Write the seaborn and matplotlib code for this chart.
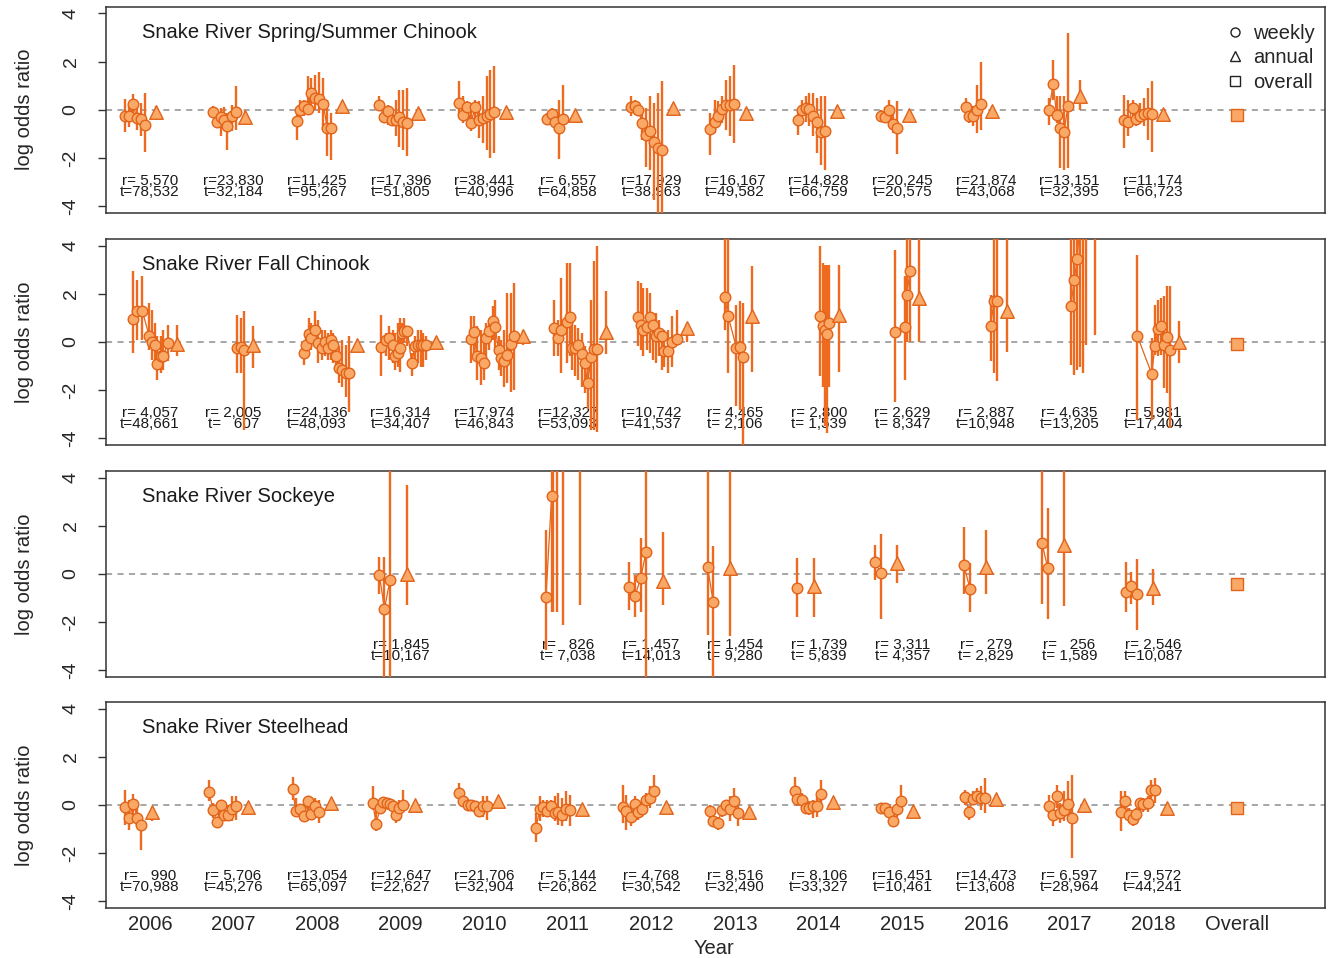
import numpy as np
import pandas as pd
import matplotlib
matplotlib.use("Agg")
import matplotlib.pyplot as plt
import seaborn as sns
from matplotlib.lines import Line2D

# ---------------------------------------------------------------- categories
years = list(range(2006, 2019))
x_labels = [str(y) for y in years] + ["Overall"]
panel_titles = ["Snake River Spring/Summer Chinook", "Snake River Fall Chinook",
                "Snake River Sockeye", "Snake River Steelhead"]

# ---------------------------------------------------------------- Spring/Summer Chinook
# weekly position within a year (offset from the year tick), estimate and 95% interval
ssc_wk_x = [
    [-0.30, -0.25, -0.20, -0.16, -0.11, -0.06],
    [-0.243, -0.203, -0.155, -0.116, -0.076, -0.024, 0.024],
    [-0.247, -0.207, -0.16, -0.108, -0.076, -0.028, 0.024, 0.072, 0.12, 0.163],
    [-0.255, -0.203, -0.155, -0.108, -0.06, -0.02, 0.028, 0.072],
    [-0.30, -0.25, -0.203, -0.16, -0.112, -0.06, -0.02, 0.028, 0.068, 0.12],
    [-0.247, -0.195, -0.155, -0.104, -0.064],
    [-0.251, -0.203, -0.16, -0.112, -0.068, -0.02, 0.032, 0.08, 0.128],
    [-0.295, -0.247, -0.20, -0.16, -0.112, -0.064, -0.016],
    [-0.243, -0.203, -0.155, -0.112, -0.064, -0.016, 0.028, 0.076],
    [-0.259, -0.207, -0.155, -0.108, -0.06],
    [-0.243, -0.203, -0.16, -0.112, -0.064],
    [-0.247, -0.195, -0.155, -0.116, -0.068, -0.02],
    [-0.347, -0.295, -0.247, -0.20, -0.155, -0.108, -0.06, -0.016],
]
ssc_wk_est = [
    [-0.24, -0.25, 0.24, -0.35, -0.37, -0.62],
    [-0.11, -0.51, -0.31, -0.44, -0.69, -0.28, -0.10],
    [-0.46, -0.03, 0.17, 0.03, 0.69, 0.49, 0.46, 0.24, -0.74, -0.74],
    [0.21, -0.32, -0.07, -0.42, -0.42, -0.32, -0.51, -0.56],
    [0.28, -0.21, 0.10, -0.56, 0.10, -0.42, -0.35, -0.28, -0.18, -0.08],
    [-0.39, -0.18, -0.53, -0.74, -0.39],
    [0.11, 0.14, 0.00, -0.56, -1.04, -0.87, -1.36, -1.60, -1.67],
    [-0.79, -0.51, -0.25, 0.03, 0.21, 0.21, 0.24],
    [-0.42, 0.00, 0.06, 0.03, -0.24, -0.53, -0.94, -0.87],
    [-0.25, -0.31, -0.03, -0.60, -0.74],
    [0.11, -0.25, -0.28, 0.00, 0.24],
    [0.00, 1.08, -0.21, -0.74, -0.93, 0.14],
    [-0.44, -0.49, 0.07, -0.37, -0.24, -0.18, -0.14, -0.17],
]
ssc_wk_lo = [
    [-0.94, -0.70, -0.20, -0.83, -1.10, -1.74],
    [-0.35, -0.70, -1.10, -0.69, -1.69, -0.90, -0.83],
    [-1.25, -0.42, -0.28, -0.14, 0.07, 0.00, -0.14, -0.83, -1.94, -2.08],
    [-0.07, -0.56, -0.63, -0.63, -1.11, -1.53, -1.67, -1.94],
    [-0.21, -0.56, -0.42, -0.90, -0.69, -1.18, -1.39, -1.67, -2.00, -1.80],
    [-0.63, -0.42, -0.90, -2.06, -0.56],
    [-0.28, -0.21, -0.21, -1.25, -2.36, -2.50, -3.75, -6.0, -6.0],
    [-1.87, -0.97, -0.56, -0.56, -0.83, -1.11, -1.39],
    [-1.04, -0.42, -0.49, -0.69, -1.11, -1.80, -2.30, -2.50],
    [-0.42, -0.49, -0.56, -0.97, -1.83],
    [-0.14, -0.56, -0.69, -0.97, -0.83],
    [-0.63, 0.42, -0.56, -2.43, -2.50, -2.43],
    [-1.60, -1.11, -0.35, -0.69, -0.56, -0.69, -1.25, -1.74],
]
ssc_wk_hi = [
    [0.44, 0.20, 0.65, 0.14, 0.28, 0.69],
    [0.14, 0.00, 0.07, 0.11, -0.14, 0.21, 0.97],
    [0.00, 0.42, 0.42, 1.39, 1.32, 1.46, 1.56, 1.32, 0.42, -0.14],
    [0.56, 0.00, 0.21, 0.00, 0.42, 0.83, 0.83, 0.90],
    [1.18, 0.56, 0.35, 0.00, 0.42, 0.35, 0.56, 1.39, 1.67, 1.80],
    [-0.14, 0.07, 0.00, 0.42, 1.04],
    [0.56, 0.42, 0.14, 0.07, 0.07, 0.56, 0.28, 0.69, 1.18],
    [-0.14, 0.42, 0.35, 0.56, 1.25, 1.39, 1.87],
    [-0.07, 0.42, 0.56, 0.69, 0.69, 0.49, 0.56, 0.56],
    [0.00, 0.11, 0.42, 0.00, 0.35],
    [0.49, 0.28, 0.14, 1.04, 2.00],
    [0.49, 2.08, 0.56, 0.56, 0.56, 3.19],
    [0.62, 0.42, 0.42, 0.14, 0.28, 0.49, 0.90, 1.18],
]
ssc_ann_x = [0.07, 0.14, 0.30, 0.21, 0.26, 0.084, 0.26, 0.124, 0.215, 0.08, 0.075, 0.124, 0.12]
ssc_ann_est = [-0.11, -0.31, 0.14, -0.14, -0.08, -0.21, 0.06, -0.14, -0.07, -0.21, -0.04, 0.56, -0.18]
ssc_ann_lo = [-0.42, -0.49, 0.00, -0.35, -0.20, -0.56, -0.14, -0.35, -0.28, -0.42, -0.35, 0.00, -0.42]
ssc_ann_hi = [0.14, -0.07, 0.28, 0.00, 0.05, 0.00, 0.21, 0.07, 0.14, 0.00, 0.14, 1.25, 0.00]
ssc_overall = [-0.21, -0.25, -0.17]
ssc_r = [5570, 23830, 11425, 17396, 38441, 6557, 17929, 16167, 14828, 20245, 21874, 13151, 11174]
ssc_t = [78532, 32184, 95267, 51805, 40996, 64858, 38963, 49582, 66759, 20575, 43068, 32395, 66723]

# ---------------------------------------------------------------- Fall Chinook
fc_wk_x = [
    [-0.20, -0.16, -0.09, -0.01, 0.02, 0.06, 0.09, 0.13, 0.16, 0.21],
    [0.036, 0.084, 0.124],
    [-0.16, -0.128, -0.10, -0.068, -0.028, 0.012, 0.052, 0.092, 0.132, 0.16, 0.19, 0.23, 0.26, 0.30, 0.34, 0.38],
    [-0.235, -0.175, -0.144, -0.096, -0.068, -0.036, -0.008, 0.012, 0.044, 0.08, 0.13, 0.17, 0.21, 0.24, 0.27, 0.30],
    [-0.16, -0.124, -0.092, -0.044, -0.004, 0.02, 0.06, 0.10, 0.13, 0.17, 0.20, 0.235, 0.275, 0.315, 0.35],
    [-0.167, -0.116, -0.088, -0.016, 0.024, 0.044, 0.084, 0.124, 0.163, 0.20, 0.235, 0.275, 0.315, 0.343],
    [-0.167, -0.13, -0.10, -0.05, -0.02, 0.02, 0.05, 0.09, 0.13, 0.15, 0.20, 0.25, 0.30],
    [-0.124, -0.084, 0.016, 0.056, 0.088],
    [0.016, 0.048, 0.076, 0.096, 0.128],
    [-0.084, 0.028, 0.052, 0.092],
    [0.056, 0.096, 0.136],
    [0.016, 0.056, 0.092, 0.124, 0.163, 0.20],
    [-0.19, -0.016, 0.02, 0.06, 0.092, 0.128, 0.16, 0.20],
]
fc_wk_est = [
    [0.94, 1.26, 1.26, 0.25, -0.03, -0.15, -0.92, -0.61, -0.61, -0.06],
    [-0.24, -0.22, -0.33],
    [-0.47, -0.12, 0.33, 0.15, 0.50, -0.06, -0.26, 0.01, -0.26, 0.08, -0.12, -0.58, -1.07, -1.19, -1.31, -1.31],
    [-0.22, 0.08, 0.15, -0.12, -0.58, -0.47, -0.26, 0.36, 0.43, 0.43, -0.89, -0.19, -0.12, -0.12, -0.12, -0.12],
    [0.11, 0.39, -0.58, -0.68, -0.89, 0.15, 0.43, 0.85, 0.60, -0.36, -0.68, -0.82, -0.54, -0.10, 0.25],
    [0.57, 0.15, 0.47, 0.81, 1.03, -0.26, -0.26, -0.12, -0.50, -0.89, -1.72, -0.65, -0.31, -0.31],
    [1.03, 0.71, 0.50, 0.60, 1.01, 0.71, 0.25, 0.36, 0.25, -0.40, -0.40, 0.01, 0.11],
    [1.85, 1.06, -0.26, -0.22, -0.65],
    [1.08, 0.64, 0.50, 0.33, 0.78],
    [0.40, 0.61, 1.93, 2.93],
    [0.67, 1.68, 1.68],
    [1.50, 2.56, 3.44, 5.0, 5.5, 5.0],
    [0.25, -1.35, -0.19, 0.53, 0.64, -0.12, 0.19, -0.33],
]
fc_wk_lo = [
    [-0.47, 0.08, 0.08, -0.33, -0.75, -0.89, -1.58, -1.30, -1.17, -0.82],
    [-1.30, -1.30, -3.67],
    [-0.96, -0.61, -0.12, -0.33, -0.06, -0.89, -0.75, -0.61, -0.75, -0.75, -0.89, -1.17, -1.72, -1.86, -2.28, -2.90],
    [-1.44, -0.61, -0.75, -0.89, -1.17, -1.03, -1.24, -0.06, -0.06, -0.19, -1.44, -1.03, -0.89, -1.03, -1.03, -0.75],
    [-0.89, -0.47, -1.58, -1.79, -1.58, -0.75, -0.33, 0.08, -0.33, -1.17, -1.44, -1.86, -1.72, -2.07, -2.00],
    [-0.61, -0.61, -1.30, -0.89, -0.61, -1.17, -1.44, -1.58, -1.86, -2.15, -2.80, -3.67, -3.67, -3.74],
    [-0.19, -0.33, -0.61, -0.33, -0.47, -0.75, -0.89, -0.61, -1.17, -1.03, -1.31, -1.03, -0.06],
    [0.50, -1.31, -2.69, -2.83, -4.50],
    [-1.44, -1.86, -3.50, -3.78, -1.86],
    [-2.49, -1.58, 0.00, 0.00],
    [-0.82, -1.30, -1.65],
    [-0.96, -1.37, -1.17, -1.03, -1.30, -0.15],
    [-3.25, -3.25, -0.54, -0.61, -0.54, -1.93, -2.14, -3.60],
]
fc_wk_hi = [
    [2.93, 2.58, 2.72, 1.60, 1.33, 0.78, 0.22, 0.22, 0.50, 0.71],
    [1.12, 0.99, 1.26],
    [-0.06, 0.50, 0.99, 0.78, 1.26, 0.92, 0.50, 0.50, 0.36, 0.50, 0.36, -0.06, -0.19, 0.08, -0.12, 0.25],
    [1.12, 0.36, 0.64, 0.50, 0.36, 0.78, 0.99, 0.78, 0.99, 0.57, -0.47, 0.22, 0.50, 0.50, 0.36, 0.22],
    [1.06, 1.06, 0.64, 0.50, 0.36, 0.78, 0.92, 1.47, 1.75, 0.22, 0.08, 0.50, 2.03, 2.03, 2.44],
    [1.75, 0.92, 2.65, 3.28, 3.28, 0.85, 0.71, 0.57, 0.36, -0.19, -0.60, 1.75, 3.35, 4.00],
    [2.51, 2.44, 2.22, 2.22, 2.01, 1.19, 1.19, 0.92, 0.50, 0.50, 0.50, 1.06, 1.33],
    [6.0, 6.0, 1.54, 1.68, 1.61],
    [3.97, 3.28, 3.20, 3.20, 3.20],
    [3.83, 2.72, 6.0, 6.0],
    [1.96, 6.0, 6.0],
    [6.0, 6.0, 6.0, 6.0, 6.0, 6.0],
    [3.60, 0.15, 1.54, 1.75, 1.82, 1.89, 2.31, 2.31],
]
fc_ann_x = [0.32, 0.235, 0.48, 0.42, 0.46, 0.45, 0.42, 0.20, 0.247, 0.20, 0.247, 0.31, 0.31]
fc_ann_est = [-0.10, -0.13, -0.12, 0.01, 0.25, 0.39, 0.56, 1.08, 1.12, 1.82, 1.29, 5.0, -0.03]
fc_ann_lo = [-0.61, -1.10, -0.30, -0.15, -0.12, -0.50, 0.01, -1.24, -1.24, 0.01, -0.44, 0.29, -0.89]
fc_ann_hi = [0.71, 0.64, 0.05, 0.15, 0.50, 2.10, 0.78, 3.14, 3.20, 6.0, 6.0, 6.0, 0.85]
fc_overall = [-0.10, -0.17, -0.03]
fc_r = [4057, 2005, 24136, 16314, 17974, 12327, 10742, 4465, 2800, 2629, 2887, 4635, 5981]
fc_t = [48661, 607, 48093, 34407, 46843, 53093, 41537, 2106, 1539, 8347, 10948, 13205, 17404]

# ---------------------------------------------------------------- Sockeye (no data 2006-2008, 2010)
sk_wk_x = [
    [], [], [],
    [-0.255, -0.195, -0.128],
    [],
    [-0.263, -0.195, -0.175, -0.128, -0.064],
    [-0.267, -0.20, -0.13, -0.068],
    [-0.33, -0.263],
    [-0.263],
    [-0.327, -0.26],
    [-0.263, -0.19],
    [-0.33, -0.263],
    [-0.33, -0.26, -0.19],
]
sk_wk_est = [
    [], [], [],
    [-0.06, -1.46, -0.24],
    [],
    [-0.96, 3.25, 5.0, 5.5, 5.0],
    [-0.54, -0.93, -0.19, 0.89],
    [0.29, -1.17],
    [-0.57],
    [0.51, 0.04],
    [0.36, -0.65],
    [1.29, 0.26],
    [-0.75, -0.51, -0.86],
]
sk_wk_lo = [
    [], [], [],
    [-0.82, -6.0, -6.0],
    [],
    [-3.18, -1.58, -1.58, -1.58, -2.14],
    [-1.51, -1.79, -1.58, -6.0],
    [-2.56, -6.0],
    [-1.79],
    [-0.26, -1.86],
    [-0.82, -1.58],
    [-1.24, -1.86],
    [-1.58, -1.24, -2.32],
]
sk_wk_hi = [
    [], [], [],
    [0.71, 0.71, 6.0],
    [],
    [1.82, 6.0, 6.0, 6.0, 6.0],
    [0.50, -0.06, 1.47, 6.0],
    [6.0, 1.15],
    [0.64],
    [1.19, 1.65],
    [1.96, 0.43],
    [6.0, 2.72],
    [0.50, 0.08, 0.60],
]
sk_ann_x = [None, None, None, 0.08, None, 0.144, 0.14, -0.064, -0.056, -0.06, 0.0, -0.064, 0.0]
sk_ann_est = [None, None, None, -0.01, None, 5.0, -0.29, 0.26, -0.51, 0.43, 0.29, 1.19, -0.57]
sk_ann_lo = [None, None, None, -1.31, None, -1.31, -1.31, -2.60, -1.79, -0.40, -0.82, -1.33, -1.31]
sk_ann_hi = [None, None, None, 3.69, None, 6.0, 1.75, 6.0, 0.64, 1.19, 1.82, 6.0, 0.18]
sk_overall = [-0.44, -0.55, -0.33]
sk_r = [None, None, None, 1845, None, 826, 1457, 1454, 1739, 3311, 279, 256, 2546]
sk_t = [None, None, None, 10167, None, 7038, 14013, 9280, 5839, 4357, 2829, 1589, 10087]

# ---------------------------------------------------------------- Steelhead
sh_wk_x = [
    [-0.30, -0.247, -0.20, -0.15, -0.108],
    [-0.295, -0.243, -0.203, -0.15, -0.11, -0.064, -0.024, 0.024],
    [-0.295, -0.255, -0.207, -0.16, -0.108, -0.068, -0.02, 0.024],
    [-0.335, -0.295, -0.247, -0.207, -0.167, -0.128, -0.096, -0.056, -0.016, 0.032],
    [-0.30, -0.25, -0.20, -0.16, -0.11, -0.06, -0.02, 0.028],
    [-0.383, -0.335, -0.295, -0.255, -0.203, -0.155, -0.116, -0.076, -0.024, 0.024],
    [-0.347, -0.30, -0.247, -0.20, -0.16, -0.112, -0.068, -0.02, 0.032],
    [-0.295, -0.263, -0.203, -0.163, -0.112, -0.064, -0.016, 0.036],
    [-0.283, -0.255, -0.195, -0.155, -0.112, -0.064, -0.016, 0.028],
    [-0.26, -0.207, -0.155, -0.108, -0.068, -0.016],
    [-0.25, -0.20, -0.152, -0.112, -0.064, -0.012],
    [-0.247, -0.203, -0.155, -0.116, -0.068, -0.02, 0.032],
    [-0.387, -0.335, -0.29, -0.247, -0.20, -0.16, -0.12, -0.06, -0.02, 0.028],
]
sh_wk_est = [
    [-0.10, -0.56, 0.03, -0.53, -0.83],
    [0.53, -0.21, -0.72, 0.00, -0.42, -0.42, -0.17, -0.07],
    [0.65, -0.25, -0.18, -0.46, 0.14, -0.39, -0.04, -0.28],
    [0.07, -0.79, -0.14, 0.11, 0.07, 0.03, -0.07, -0.42, -0.14, -0.03],
    [0.49, 0.14, 0.00, -0.03, -0.07, -0.25, -0.07, -0.07],
    [-0.97, -0.17, -0.10, -0.24, -0.07, -0.35, -0.28, -0.42, -0.17, -0.21],
    [-0.11, -0.24, -0.49, 0.03, -0.32, -0.17, 0.21, 0.28, 0.56],
    [-0.24, -0.67, -0.76, -0.21, -0.03, -0.17, 0.14, -0.35],
    [0.58, 0.24, 0.21, -0.14, -0.14, -0.07, -0.07, 0.44],
    [-0.14, -0.14, -0.32, -0.67, -0.17, 0.17],
    [0.31, -0.28, 0.24, 0.37, 0.28, 0.28],
    [-0.07, -0.42, 0.35, -0.35, -0.21, 0.03, -0.53],
    [-0.31, 0.14, -0.42, -0.58, -0.39, 0.07, 0.03, 0.07, 0.62, 0.60],
]
sh_wk_lo = [
    [-0.83, -1.04, -0.49, -0.90, -1.87],
    [0.14, -0.56, -0.90, -0.49, -0.69, -0.69, -0.69, -0.62],
    [0.18, -0.35, -0.42, -0.62, -0.42, -0.62, -0.56, -0.76],
    [-0.21, -1.11, -0.35, -0.07, -0.14, -0.21, -0.35, -0.76, -0.69, -0.28],
    [0.28, -0.07, -0.14, -0.14, -0.21, -0.42, -0.49, -0.62],
    [-1.53, -0.69, -0.49, -0.49, -0.28, -0.69, -0.83, -0.90, -0.69, -0.90],
    [-0.76, -1.04, -0.90, -0.42, -0.62, -0.49, -0.21, -0.14, 0.07],
    [-0.56, -0.90, -1.04, -0.49, -0.35, -0.69, -0.28, -0.90],
    [0.21, -0.07, -0.14, -0.35, -0.42, -0.56, -0.49, 0.07],
    [-0.35, -0.42, -0.56, -0.90, -0.49, -0.07],
    [0.00, -0.62, 0.00, 0.07, -0.21, -0.35],
    [-0.49, -0.90, -0.14, -0.76, -0.69, -0.62, -2.22],
    [-1.11, -0.28, -0.76, -0.90, -0.76, -0.28, -0.28, -0.28, 0.21, 0.07],
]
sh_wk_hi = [
    [0.62, 0.21, 0.46, -0.07, -0.42],
    [1.01, 0.07, -0.49, 0.21, -0.07, 0.00, 0.35, 0.35],
    [1.15, 0.28, 0.00, -0.21, 0.35, 0.21, 0.28, 0.21],
    [0.76, -0.21, 0.07, 0.28, 0.21, 0.21, 0.14, 0.00, 0.21, 0.62],
    [0.90, 0.28, 0.14, 0.07, 0.07, -0.07, 0.35, 0.35],
    [-0.35, 0.35, 0.21, 0.21, 0.21, 0.35, 0.49, 0.28, 0.56, 0.42],
    [0.83, 0.42, 0.07, 0.35, 0.14, 0.21, 0.49, 0.76, 1.25],
    [0.00, -0.35, -0.49, 0.07, 0.21, 0.35, 0.69, 0.00],
    [1.15, 0.62, 0.49, 0.14, 0.14, 0.21, 0.35, 1.04],
    [0.07, 0.07, -0.07, -0.42, 0.07, 0.83],
    [0.62, -0.07, 0.56, 0.69, 0.76, 1.11],
    [0.42, 0.00, 0.83, 0.07, 0.56, 0.97, 1.25],
    [0.56, 0.56, -0.14, -0.28, -0.14, 0.28, 0.28, 0.35, 1.04, 1.11],
]
sh_ann_x = [0.028, 0.167, 0.17, 0.17, 0.167, 0.163, 0.167, 0.163, 0.167, 0.124, 0.12, 0.17, 0.167]
sh_ann_est = [-0.32, -0.11, 0.07, 0.00, 0.14, -0.17, -0.10, -0.32, 0.11, -0.24, 0.25, 0.00, -0.14]
sh_ann_lo = [-0.69, -0.25, -0.07, -0.12, 0.00, -0.30, -0.25, -0.45, 0.00, -0.40, 0.12, -0.20, -0.28]
sh_ann_hi = [-0.14, 0.05, 0.20, 0.12, 0.25, -0.05, 0.05, -0.20, 0.22, -0.10, 0.38, 0.15, 0.00]
sh_overall = [-0.14, -0.20, -0.08]
sh_r = [990, 5706, 13054, 12647, 21706, 5144, 4768, 8516, 8106, 16451, 14473, 6597, 9572]
sh_t = [70988, 45276, 65097, 22627, 32904, 26862, 30542, 32490, 33327, 10461, 13608, 28964, 44241]

# ---------------------------------------------------------------- assemble tables
panels = [
    (ssc_wk_x, ssc_wk_est, ssc_wk_lo, ssc_wk_hi, ssc_ann_x, ssc_ann_est, ssc_ann_lo, ssc_ann_hi, ssc_overall, ssc_r, ssc_t),
    (fc_wk_x, fc_wk_est, fc_wk_lo, fc_wk_hi, fc_ann_x, fc_ann_est, fc_ann_lo, fc_ann_hi, fc_overall, fc_r, fc_t),
    (sk_wk_x, sk_wk_est, sk_wk_lo, sk_wk_hi, sk_ann_x, sk_ann_est, sk_ann_lo, sk_ann_hi, sk_overall, sk_r, sk_t),
    (sh_wk_x, sh_wk_est, sh_wk_lo, sh_wk_hi, sh_ann_x, sh_ann_est, sh_ann_lo, sh_ann_hi, sh_overall, sh_r, sh_t),
]

weekly_rows, annual_rows, overall_rows, label_rows = [], [], [], []
for p, (wx, we, wl, wh, ax_, ae, al, ah, ov, rr, tt) in enumerate(panels):
    for i, yr in enumerate(years):
        for k in range(len(wx[i])):
            weekly_rows.append(dict(panel=p, year=yr, x=i + wx[i][k], est=we[i][k], lo=wl[i][k], hi=wh[i][k]))
        if ae[i] is not None:
            annual_rows.append(dict(panel=p, year=yr, x=i + ax_[i], est=ae[i], lo=al[i], hi=ah[i]))
        if rr[i] is not None:
            label_rows.append(dict(panel=p, x=i, r=rr[i], t=tt[i]))
    overall_rows.append(dict(panel=p, x=len(years), est=ov[0], lo=ov[1], hi=ov[2]))

weekly = pd.DataFrame(weekly_rows)
annual = pd.DataFrame(annual_rows)
overall = pd.DataFrame(overall_rows)
labels = pd.DataFrame(label_rows)

# ---------------------------------------------------------------- styling
sns.set_style("white")
plt.rcParams["font.family"] = ["Liberation Sans", "DejaVu Sans"]

BAR = "#EE6A1E"
EDGE = "#E2631A"
FILL = "#F9A865"
ZERO = "#8E8E8E"

fig = plt.figure(figsize=(13.3, 9.58), dpi=100)
bottoms = [0.7777, 0.5355, 0.2933, 0.0522]
axes = [fig.add_axes([0.0797, b, 0.9165, 0.2155]) for b in bottoms]

for p, ax in enumerate(axes):
    wk = weekly[weekly.panel == p]
    an = annual[annual.panel == p]
    ov = overall[overall.panel == p]
    lb = labels[labels.panel == p]

    ax.axhline(0, color=ZERO, lw=1.1, ls=(0, (4, 3.5)), zorder=1)

    for _, row in lb.iterrows():
        ax.text(row.x, -2.95, f"r={format(int(row.r), ','):>6}", ha="center", va="center",
                fontsize=11, color="#1a1a1a", zorder=2)
        ax.text(row.x, -3.43, f"t={format(int(row.t), ','):>6}", ha="center", va="center",
                fontsize=11, color="#1a1a1a", zorder=2)

    # weekly series joined within each year
    sns.lineplot(data=wk, x="x", y="est", units="year", estimator=None, sort=False,
                 color=EDGE, lw=0.9, ax=ax, legend=False, zorder=3)
    ax.vlines(wk.x, wk.lo, wk.hi, color=BAR, lw=1.7, zorder=3)
    ax.vlines(an.x, an.lo, an.hi, color=BAR, lw=1.7, zorder=3)
    ax.vlines(ov.x, ov.lo, ov.hi, color=BAR, lw=1.7, zorder=3)

    sns.scatterplot(data=wk, x="x", y="est", marker="o", s=58, color=FILL, edgecolor=EDGE,
                    linewidth=1.0, ax=ax, legend=False, zorder=4)
    sns.scatterplot(data=an, x="x", y="est", marker="^", s=95, color=FILL, edgecolor=EDGE,
                    linewidth=1.0, ax=ax, legend=False, zorder=4)
    sns.scatterplot(data=ov, x="x", y="est", marker="s", s=85, color=FILL, edgecolor=EDGE,
                    linewidth=1.0, ax=ax, legend=False, zorder=4)

    ax.set_xlim(-0.526, 14.055)
    ax.set_ylim(-4.29, 4.29)
    ax.set_yticks([-4, -2, 0, 2, 4])
    ax.set_yticklabels(["-4", "-2", "0", "2", "4"])
    ax.tick_params(axis="y", length=6, width=1, color="#333333", labelsize=14,
                   labelrotation=90, pad=13, left=True)
    for t in ax.get_yticklabels():
        t.set_va("center")
    for s in ax.spines.values():
        s.set_color("#333333")
        s.set_linewidth(1.1)
    ax.set_ylabel("log odds ratio", fontsize=14.5)
    ax.yaxis.set_label_coords(-0.059, 0.5)
    ax.text(0.0295, 0.874, panel_titles[p], transform=ax.transAxes, ha="left", va="center",
            fontsize=14.5, color="#1a1a1a")
    if p < 3:
        ax.set_xticks([])
        ax.set_xlabel("")
    else:
        ax.set_xticks(range(len(x_labels)))
        ax.set_xticklabels(x_labels)
        ax.tick_params(axis="x", length=0, labelsize=14.5, pad=5)
        ax.set_xlabel("Year", fontsize=14.5)
        ax.xaxis.set_label_coords(0.499, -0.15)

handles = [Line2D([], [], marker=m, ls="none", markersize=ms, markerfacecolor="none",
                  markeredgecolor="#222222", markeredgewidth=1.0)
           for m, ms in [("o", 6.5), ("^", 7.5), ("s", 6.5)]]
axes[0].legend(handles, ["weekly", "annual", "overall"], loc="upper right", frameon=False,
               fontsize=14.5, handletextpad=0.4, labelspacing=0.28, borderaxespad=0.45,
               handlelength=1.0, bbox_to_anchor=(1.006, 1.0))

fig.savefig("out.png", dpi=100)
